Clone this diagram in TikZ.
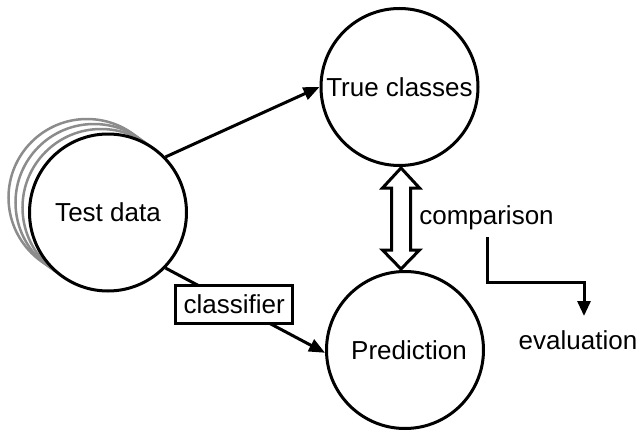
\documentclass[tikz,border=0pt]{standalone}
\usepackage{fontspec}
\setmainfont{Liberation Sans}
\usetikzlibrary{arrows.meta,calc}
\begin{document}
\begin{tikzpicture}[x=1pt,y=-1pt,
  txt/.style={font=\fontsize{26}{30}\selectfont, inner sep=0pt},
  bigcirc/.style={circle, draw=black, line width=3pt, fill=white, minimum size=157pt, inner sep=0pt, font=\fontsize{26}{30}\selectfont},
  ghost/.style={circle, draw=black!45, line width=2.5pt, fill=white, minimum size=157pt, inner sep=0pt},
  conn/.style={line width=3pt, -{Triangle[length=16pt,width=13pt]}},
  boxed/.style={draw=black, line width=3pt, fill=white, minimum width=117pt, minimum height=38pt, inner sep=0pt, font=\fontsize{26}{30}\selectfont}
]
\useasboundingbox (0,0) rectangle (641,431);
% stacked copies of test data
\node[ghost] (g3) at (87,197.5) {};
\node[ghost] (g2) at (94,202.5) {};
\node[ghost] (g1) at (101,207.5) {};
\node[bigcirc] (td) at (108,212.5) {Test data};
\node[bigcirc] (tc) at (399.5,87) {True classes};
\node[bigcirc] (pred) at (405,350) {\hspace{8pt}Prediction};
% arrows
\draw[conn] (td.44) -- (tc.west);
\draw[conn] (td.-44) -- node[boxed, pos=0.43] (cls) {classifier} (pred.182);
% double hollow arrow
\coordinate (dt) at (401,168);
\coordinate (db) at (401,269);
\draw[line width=3pt, fill=white, line join=miter]
  (dt) -- ++(18.5,20) -- ++(-9,0) -- ++(0,62) -- ++(9,0) -- (db)
  -- ++(-18.5,-19) -- ++(9,0) -- ++(0,-62) -- ++(-9,0) -- cycle;
% comparison and evaluation
\node[txt] (cmp) at (486.5,218) {comparison};
\node[txt] (ev) at (578,340) {evaluation};
\coordinate (e0) at (487,237);
\coordinate (e1) at (584,316);
\draw[line width=3pt, -{Triangle[length=15pt,width=13pt]}] (e0) |- ($(e0)!0.5!(e1)+(0,6)$) -| (e1);
\end{tikzpicture}
\end{document}
